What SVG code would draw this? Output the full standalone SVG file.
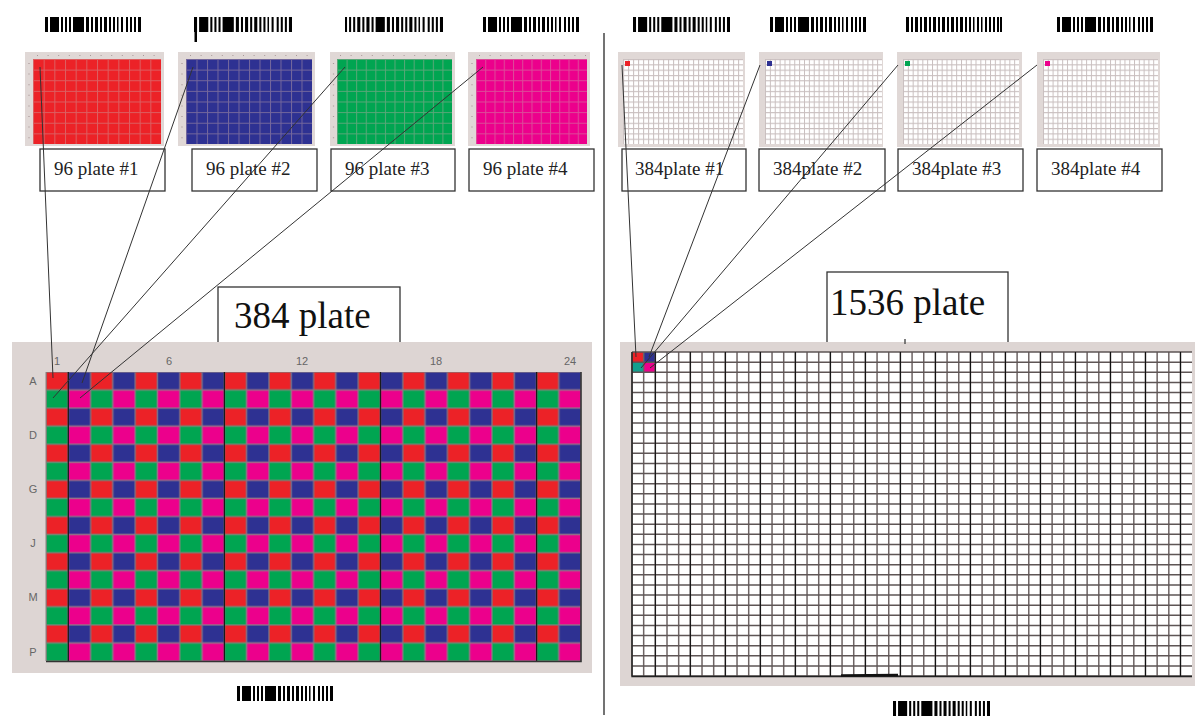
<svg xmlns="http://www.w3.org/2000/svg" width="1195" height="719" viewBox="0 0 1195 719">
<style>
.lbl{fill:#fff;stroke:#333;stroke-width:1.3}
.lt{font-family:"Liberation Serif","Times New Roman",serif;font-size:19px;fill:#222}
.big{font-family:"Liberation Serif","Times New Roman",serif;font-size:37px;fill:#111}
.frame{fill:#e0d8d6}
.ax{font-family:"Liberation Sans",Arial,sans-serif;font-size:11px;fill:#666}
.tick{stroke:#a99;stroke-width:1.2;stroke-dasharray:1 9.6}
.conn{stroke:#333;stroke-width:1;fill:none}
.bc{fill:#000}
</style>
<defs>
<symbol id="bcA" viewBox="0 0 96 15" preserveAspectRatio="none">
<g class="bc"><rect x="0" width="3" height="15"/><rect x="5" width="9" height="15"/><rect x="16" width="2" height="15"/><rect x="20" width="2" height="15"/><rect x="24" width="2" height="15"/><rect x="28" width="11" height="15"/><rect x="41" width="3" height="15"/><rect x="46" width="2" height="15"/><rect x="50" width="3" height="15"/><rect x="55" width="2" height="15"/><rect x="59" width="3" height="15"/><rect x="64" width="2" height="15"/><rect x="68" width="2" height="15"/><rect x="72" width="1.5" height="15"/><rect x="76" width="2" height="15"/><rect x="81" width="2" height="15"/><rect x="85" width="2" height="15"/><rect x="89" width="2" height="15"/><rect x="93" width="3" height="15"/></g>
</symbol>
<symbol id="bcB" viewBox="0 0 96 15" preserveAspectRatio="none">
<g class="bc"><rect x="0" width="2" height="15"/><rect x="4" width="2" height="15"/><rect x="8" width="2" height="15"/><rect x="12" width="3" height="15"/><rect x="17" width="2" height="15"/><rect x="21" width="3" height="15"/><rect x="26" width="2" height="15"/><rect x="30" width="9" height="15"/><rect x="41" width="3" height="15"/><rect x="46" width="2" height="15"/><rect x="50" width="3" height="15"/><rect x="55" width="2" height="15"/><rect x="59" width="2" height="15"/><rect x="63" width="3" height="15"/><rect x="68" width="2" height="15"/><rect x="72" width="1.5" height="15"/><rect x="76" width="2" height="15"/><rect x="81" width="2" height="15"/><rect x="85" width="2" height="15"/><rect x="89" width="2" height="15"/><rect x="93" width="3" height="15"/></g>
</symbol>
<symbol id="bcC" viewBox="0 0 96 15" preserveAspectRatio="none">
<g class="bc"><rect x="0" width="3" height="15"/><rect x="5" width="2" height="15"/><rect x="9" width="3" height="15"/><rect x="14" width="2" height="15"/><rect x="18" width="3" height="15"/><rect x="23" width="2" height="15"/><rect x="27" width="3" height="15"/><rect x="32" width="2" height="15"/><rect x="36" width="3" height="15"/><rect x="41" width="2" height="15"/><rect x="45" width="3" height="15"/><rect x="50" width="2" height="15"/><rect x="54" width="3" height="15"/><rect x="59" width="2" height="15"/><rect x="63" width="2" height="15"/><rect x="67" width="1.5" height="15"/><rect x="71" width="2" height="15"/><rect x="75" width="1.5" height="15"/><rect x="79" width="2" height="15"/><rect x="83" width="2" height="15"/><rect x="87" width="2" height="15"/><rect x="91" width="2" height="15"/><rect x="94" width="2" height="15"/></g>
</symbol>
<pattern id="g96" patternUnits="objectBoundingBox" x="0" y="0" width="0.083333" height="0.125" patternContentUnits="userSpaceOnUse">
<path d="M0 0H200M0 0V200" stroke="#c8a8a8" stroke-opacity="0.45" stroke-width="2"/>
</pattern>
<pattern id="g384" patternUnits="objectBoundingBox" x="0" y="0" width="0.0416667" height="0.0625" patternContentUnits="userSpaceOnUse">
<path d="M0 0H200M0 0V200" stroke="#c9bfbf" stroke-width="2"/>
</pattern>
<pattern id="wells" patternUnits="userSpaceOnUse" x="46" y="372" width="44.6" height="36.14">
<rect x="0" y="0" width="22.3" height="18.07" fill="#ec2227" stroke="#8c7070" stroke-width="1.4"/>
<rect x="22.3" y="0" width="22.3" height="18.07" fill="#2e3192" stroke="#7a6f8a" stroke-width="1.4"/>
<rect x="0" y="18.07" width="22.3" height="18.07" fill="#00a551" stroke="#6f8a75" stroke-width="1.4"/>
<rect x="22.3" y="18.07" width="22.3" height="18.07" fill="#ec008c" stroke="#9a7088" stroke-width="1.4"/>
</pattern>
</defs>
<rect width="1195" height="719" fill="#fff"/>

<g id="barcodes">
<use href="#bcA" x="45" y="17" width="96" height="15"/>
<use href="#bcA" x="194" y="17" width="98" height="15"/>
<rect x="194.5" y="17" width="2.5" height="25" fill="#000"/>
<use href="#bcB" x="345" y="17" width="98" height="15"/>
<use href="#bcA" x="483" y="17" width="96" height="15"/>
<use href="#bcA" x="633" y="17" width="97" height="15"/>
<use href="#bcA" x="770" y="17" width="96" height="15"/>
<use href="#bcC" x="906" y="17" width="96" height="15"/>
<use href="#bcA" x="1057" y="17" width="96" height="15"/>
<use href="#bcA" x="237" y="686" width="96" height="15"/>
<use href="#bcA" x="893" y="701" width="97" height="15"/>
</g>

<line id="divider" x1="604" y1="33" x2="604" y2="715" stroke="#444" stroke-width="1.5"/>

<g id="plate96-1">
<rect class="frame" x="25" y="52" width="139" height="94"/>
<line class="tick" x1="37" y1="55.5" x2="161" y2="55.5"/><line class="tick" x1="29" y1="63" x2="29" y2="144"/>
<rect x="33" y="59" width="128" height="85" fill="#ec2227"/>
<rect x="33" y="59" width="128" height="85" fill="url(#g96)"/>
<rect class="lbl" x="40" y="149" width="125" height="42"/>
<text class="lt" x="54" y="175">96 plate #1</text>
</g>
<g id="plate96-2">
<rect class="frame" x="178" y="52" width="137" height="94"/>
<line class="tick" x1="190" y1="55.5" x2="312" y2="55.5"/><line class="tick" x1="182" y1="63" x2="182" y2="144"/>
<rect x="186" y="59" width="126" height="85" fill="#2e3192"/>
<rect x="186" y="59" width="126" height="85" fill="url(#g96)"/>
<rect class="lbl" x="192" y="149" width="125" height="42"/>
<text class="lt" x="206" y="175">96 plate #2</text>
</g>
<g id="plate96-3">
<rect class="frame" x="330" y="52" width="125" height="94"/>
<line class="tick" x1="340" y1="55.5" x2="452" y2="55.5"/><line class="tick" x1="333.5" y1="63" x2="333.5" y2="144"/>
<rect x="337" y="59" width="115" height="85" fill="#00a551"/>
<rect x="337" y="59" width="115" height="85" fill="url(#g96)"/>
<rect class="lbl" x="331" y="149" width="124" height="42"/>
<text class="lt" x="345" y="175">96 plate #3</text>
</g>
<g id="plate96-4">
<rect class="frame" x="468" y="52" width="122" height="94"/>
<line class="tick" x1="479" y1="55.5" x2="587" y2="55.5"/><line class="tick" x1="472" y1="63" x2="472" y2="144"/>
<rect x="476" y="59" width="111" height="85" fill="#ec008c"/>
<rect x="476" y="59" width="111" height="85" fill="url(#g96)"/>
<rect class="lbl" x="469" y="149" width="125" height="42"/>
<text class="lt" x="483" y="175">96 plate #4</text>
</g>

<g id="plate384-1">
<rect class="frame" x="618" y="52" width="127" height="95"/>
<rect x="623" y="59" width="120" height="85" fill="#fff"/>
<rect x="623" y="59" width="120" height="85" fill="url(#g384)"/>
<rect x="625" y="61" width="5" height="5" fill="#ec2227"/>
<rect class="lbl" x="622" y="149" width="124" height="42"/>
<text class="lt" x="635" y="175">384plate #1</text>
</g>
<g id="plate384-2">
<rect class="frame" x="759" y="52" width="124" height="95"/>
<rect x="765" y="59" width="117" height="85" fill="#fff"/>
<rect x="765" y="59" width="117" height="85" fill="url(#g384)"/>
<rect x="767" y="61" width="5" height="5" fill="#2e3192"/>
<rect class="lbl" x="759" y="149" width="126" height="42"/>
<text class="lt" x="773" y="175">384plate #2</text>
</g>
<g id="plate384-3">
<rect class="frame" x="897" y="52" width="125" height="95"/>
<rect x="903" y="59" width="116" height="85" fill="#fff"/>
<rect x="903" y="59" width="116" height="85" fill="url(#g384)"/>
<rect x="905" y="61" width="5" height="5" fill="#00a551"/>
<rect class="lbl" x="898" y="149" width="125" height="42"/>
<text class="lt" x="912" y="175">384plate #3</text>
</g>
<g id="plate384-4">
<rect class="frame" x="1037" y="52" width="123" height="95"/>
<rect x="1043" y="59" width="115" height="85" fill="#fff"/>
<rect x="1043" y="59" width="115" height="85" fill="url(#g384)"/>
<rect x="1045" y="61" width="5" height="5" fill="#ec008c"/>
<rect class="lbl" x="1037" y="149" width="125" height="42"/>
<text class="lt" x="1051" y="175">384plate #4</text>
</g>

<g id="plate384-big">
<rect class="lbl" x="218" y="287" width="182" height="70"/>
<text class="big" x="234" y="328">384 plate</text>
<rect x="12" y="342" width="580" height="331" fill="#ddd5d3"/>
<rect x="46" y="372" width="535" height="289" fill="url(#wells)"/>
<path d="M68.3 372V661M224.4 372V661M380.5 372V661M536.6 372V661" stroke="#1a1a1a" stroke-width="1.3"/>
<path d="M581 372V661.5H46" stroke="#333" stroke-width="1.6" fill="none"/>
<path d="M46 372V661" stroke="#8a8080" stroke-width="1"/>
<g class="ax" text-anchor="middle">
<text x="57" y="365">1</text><text x="169" y="365">6</text><text x="302" y="365">12</text><text x="436" y="365">18</text><text x="570" y="365">24</text>
<text x="33" y="385">A</text><text x="33" y="439">D</text><text x="33" y="493">G</text><text x="33" y="547">J</text><text x="33" y="601">M</text><text x="33" y="656">P</text>
</g>
</g>

<g id="plate1536-big">
<rect class="lbl" x="827" y="272" width="181" height="80"/>
<text class="big" x="830" y="315">1536 plate</text>
<rect x="620" y="342" width="575" height="344" fill="#ddd5d3"/>
<rect x="632" y="352" width="560" height="324" fill="#fff"/>
<rect x="632" y="352" width="11.67" height="10.125" fill="#ec2227"/>
<rect x="643.67" y="352" width="11.67" height="10.125" fill="#2e3192"/>
<rect x="632" y="362.125" width="11.67" height="10.125" fill="#13a08e"/>
<rect x="643.67" y="362.125" width="11.67" height="10.125" fill="#ec008c"/>
<path stroke="#6e6464" stroke-width="1.5" fill="none" d="M632 352v324m11.67 -324v324m11.67 -324v324m11.67 -324v324m11.67 -324v324m11.67 -324v324m11.67 -324v324m11.67 -324v324m11.67 -324v324m11.67 -324v324m11.67 -324v324m11.67 -324v324m11.67 -324v324m11.67 -324v324m11.67 -324v324m11.67 -324v324m11.67 -324v324m11.67 -324v324m11.67 -324v324m11.67 -324v324m11.67 -324v324m11.67 -324v324m11.67 -324v324m11.67 -324v324m11.67 -324v324m11.67 -324v324m11.67 -324v324m11.67 -324v324m11.67 -324v324m11.67 -324v324m11.67 -324v324m11.67 -324v324m11.67 -324v324m11.67 -324v324m11.67 -324v324m11.67 -324v324m11.67 -324v324m11.67 -324v324m11.67 -324v324m11.67 -324v324m11.67 -324v324m11.67 -324v324m11.67 -324v324m11.67 -324v324m11.67 -324v324m11.67 -324v324m11.67 -324v324m11.67 -324v324"/>
<path stroke="#5e5555" stroke-width="1.5" fill="none" d="M632 352h560m-560 10.125h560m-560 10.125h560m-560 10.125h560m-560 10.125h560m-560 10.125h560m-560 10.125h560m-560 10.125h560m-560 10.125h560m-560 10.125h560m-560 10.125h560m-560 10.125h560m-560 10.125h560m-560 10.125h560m-560 10.125h560m-560 10.125h560m-560 10.125h560m-560 10.125h560m-560 10.125h560m-560 10.125h560m-560 10.125h560m-560 10.125h560m-560 10.125h560m-560 10.125h560m-560 10.125h560m-560 10.125h560m-560 10.125h560m-560 10.125h560m-560 10.125h560m-560 10.125h560m-560 10.125h560m-560 10.125h560m-560 10.125h560"/>
<path stroke="#111" stroke-width="1.1" fill="none" d="M655.34 352v324m35.01 -324v324m35.01 -324v324m35.01 -324v324m35.01 -324v324m35.01 -324v324m35.01 -324v324m35.01 -324v324m35.01 -324v324m35.01 -324v324m35.01 -324v324m35.01 -324v324m35.01 -324v324m35.01 -324v324m35.01 -324v324m35.01 -324v324"/>
<path d="M632 352V676.5H1192" stroke="#222" stroke-width="1.4" fill="none"/>
<path d="M841 675.5L898 675" stroke="#111" stroke-width="2.4"/>
<path d="M905 339v5" stroke="#555" stroke-width="1.5"/>
</g>

<g id="connectors">
<path class="conn" d="M40 67L53 378"/>
<path class="conn" d="M193 67L82 383"/>
<path class="conn" d="M345 67L53 398"/>
<path class="conn" d="M483 67L80 398"/>
<path class="conn" d="M622 65L636 357"/>
<path class="conn" d="M760 65L649 357"/>
<path class="conn" d="M898 65L641 368"/>
<path class="conn" d="M1037 65L650 368"/>
</g>
</svg>
